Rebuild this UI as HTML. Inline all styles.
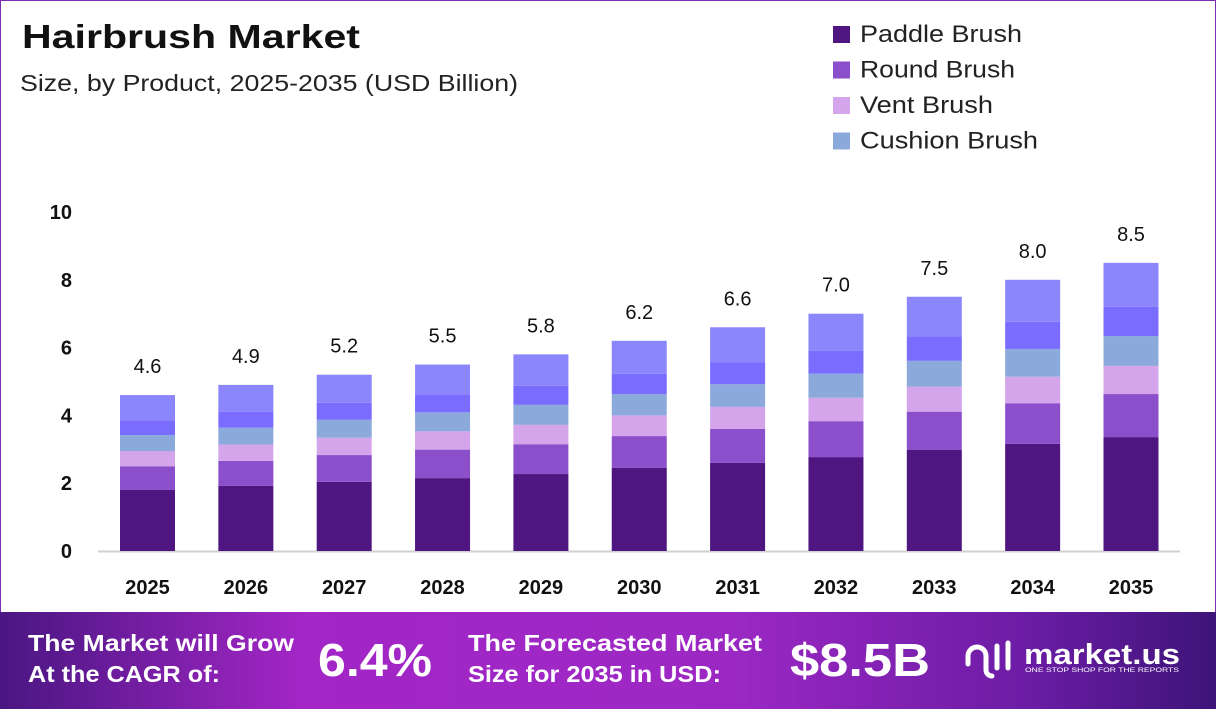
<!DOCTYPE html>
<html><head><meta charset="utf-8"><style>
body{margin:0;width:1216px;height:709px;overflow:hidden;background:#fff;font-family:"Liberation Sans",sans-serif}
#wrap{position:absolute;left:0;top:0;width:1214px;height:707px;border:1px solid #7b2fb0}
</style></head><body>
<div id="wrap"></div>
<svg id="svg" width="1216" height="709" style="position:absolute;left:0;top:0">
<defs>
<linearGradient id="bg" x1="0" x2="1" y1="0" y2="0">
<stop offset="0" stop-color="#4a1682"/><stop offset="0.25" stop-color="#a326c6"/><stop offset="0.6" stop-color="#9c28c4"/><stop offset="0.85" stop-color="#6a1ca4"/><stop offset="1" stop-color="#3d1478"/>
</linearGradient>
</defs>
<text x="22" y="48" font-size="33" font-weight="bold" fill="#111" textLength="338" lengthAdjust="spacingAndGlyphs">Hairbrush Market</text>
<text x="20" y="91" font-size="23" fill="#222" textLength="498" lengthAdjust="spacingAndGlyphs">Size, by Product, 2025-2035 (USD Billion)</text>
<g id="legend"></g>
<g id="axis"></g>
<g id="bars"></g>
<rect x="0" y="612" width="1216" height="97" fill="url(#bg)"/>
<text x="28" y="651" font-size="23" font-weight="bold" fill="#fff" textLength="266" lengthAdjust="spacingAndGlyphs">The Market will Grow</text>
<text x="28" y="682" font-size="23" font-weight="bold" fill="#fff" textLength="192" lengthAdjust="spacingAndGlyphs">At the CAGR of:</text>
<text x="318" y="676" font-size="46" font-weight="bold" fill="#fff" textLength="114" lengthAdjust="spacingAndGlyphs">6.4%</text>
<text x="468" y="651" font-size="23" font-weight="bold" fill="#fff" textLength="294" lengthAdjust="spacingAndGlyphs">The Forecasted Market</text>
<text x="468" y="682" font-size="23" font-weight="bold" fill="#fff" textLength="253" lengthAdjust="spacingAndGlyphs">Size for 2035 in USD:</text>
<text x="790" y="676" font-size="46" font-weight="bold" fill="#fff" textLength="140" lengthAdjust="spacingAndGlyphs">$8.5B</text>
<g fill="none" stroke="#fff" stroke-width="5" stroke-linecap="round">
<path d="M968 664 v-8 a9 9 0 0 1 18 0 v14 a6 6 0 0 0 6 6"/><path d="M997 646 v22"/><path d="M1008 643 v25"/>
</g>
<text x="1024" y="664" font-size="29" font-weight="bold" fill="#fff" textLength="156" lengthAdjust="spacingAndGlyphs">market.us</text>
<text x="1025" y="672" font-size="6.5" fill="#fff" textLength="154" lengthAdjust="spacingAndGlyphs">ONE STOP SHOP FOR THE REPORTS</text>
</svg>
<script>
const years=['2025','2026','2027','2028','2029','2030','2031','2032','2033','2034','2035'];
const totals=[4.6,4.9,5.2,5.5,5.8,6.2,6.6,7.0,7.5,8.0,8.5];
const paddle=[1.8,1.92,2.04,2.15,2.27,2.45,2.6,2.77,2.98,3.16,3.36];
const round=[0.7,0.74,0.79,0.84,0.88,0.94,1.0,1.06,1.13,1.2,1.27];
const vent=[0.45,0.48,0.51,0.54,0.57,0.61,0.65,0.69,0.74,0.78,0.83];
const cushion=[0.47,0.5,0.53,0.56,0.59,0.63,0.67,0.71,0.76,0.82,0.88];
const other1=[0.44,0.47,0.5,0.53,0.56,0.6,0.64,0.68,0.72,0.8,0.86];
const other2=[0.74,0.79,0.83,0.88,0.93,0.97,1.04,1.09,1.17,1.24,1.3];
const yTicks=[0,2,4,6,8,10];
const legendNames=['Paddle Brush','Round Brush','Vent Brush','Cushion Brush'];
const legendWidths=[162,155,133,178];
const NS='http://www.w3.org/2000/svg';
const y0=551,yTop=212;
function y(v){return y0-(y0-yTop)*v/10;}
function x(i){return 147.5+i*98.35;}
function mk(t,a,p,txt){const e=document.createElementNS(NS,t);for(const k in a)e.setAttribute(k,a[k]);if(txt!=null)e.textContent=txt;p.appendChild(e);return e;}
const series=[paddle,round,vent,cushion,other1,other2];
const names=['paddle','round','vent','cushion','other-a','other-b'];
const colors=['#4f1580','#8b4fcb','#d4a5ea','#8ca9db','#7a6cff','#8c86fc'];
const lg=document.getElementById('legend');
legendNames.forEach((n,i)=>{
  const r=mk('rect',{x:833,y:26+i*35.5,width:17,height:17,fill:colors[i]},lg);
  
  
  const t=mk('text',{x:860,y:42+i*35.5,'font-size':24,fill:'#222',textLength:legendWidths[i],lengthAdjust:'spacingAndGlyphs'},lg,n);
  
  
});
const ax=document.getElementById('axis');
const ln=mk('line',{x1:98,x2:1180,y1:y0+0.5,y2:y0+0.5,stroke:'#d0d0d0','stroke-width':2},ax);


yTicks.forEach(v=>{
  const t=mk('text',{x:72,y:y(v)+7,'font-size':20,'font-weight':'bold','text-anchor':'end',fill:'#111'},ax,String(v));
  
  
});
const bg=document.getElementById('bars');
years.forEach((yr,i)=>{
  let acc=0;
  series.forEach((s,k)=>{
    const r=mk('rect',{x:x(i)-27.5,y:y(acc+s[i]),width:55,height:y(acc)-y(acc+s[i]),fill:colors[k]},bg);
    
    
    acc+=s[i];
  });
  const lbl=mk('text',{x:x(i),y:y(totals[i])-22,'font-size':20,'text-anchor':'middle',fill:'#111'},bg,totals[i].toFixed(1));
  
  
  const xt=mk('text',{x:x(i),y:594,'font-size':20,'font-weight':'bold','text-anchor':'middle',fill:'#111'},bg,yr);
  
  
});
</script>
</body></html>
